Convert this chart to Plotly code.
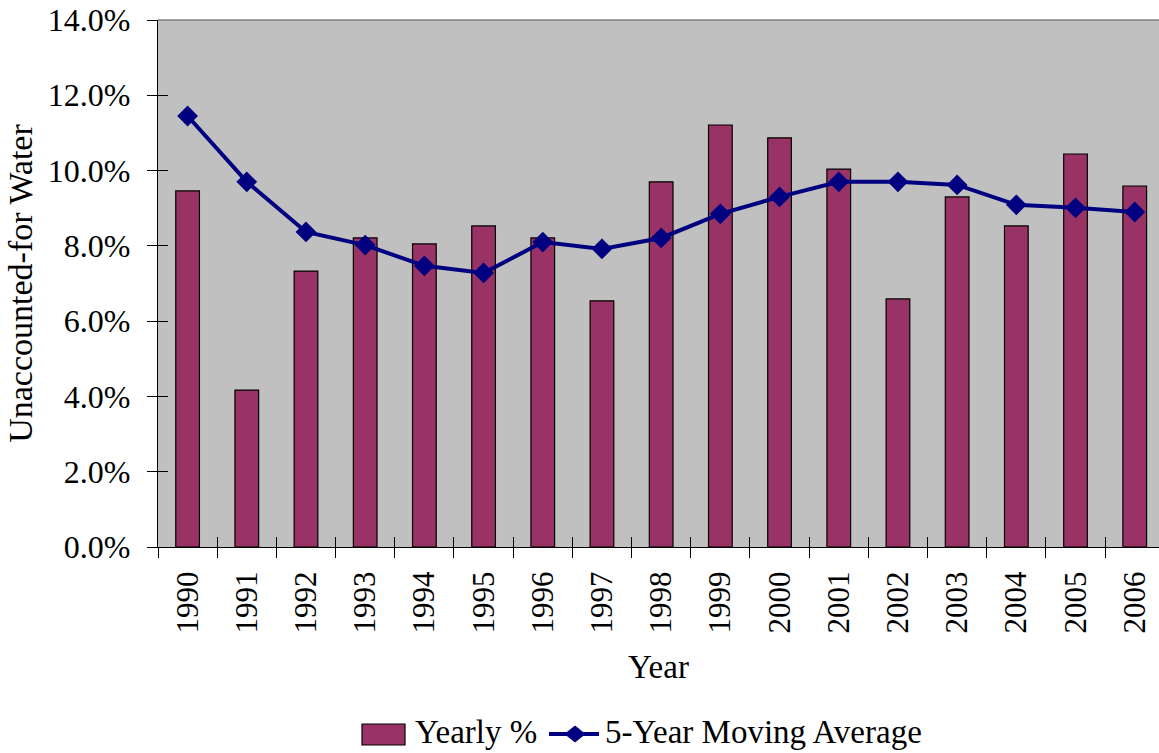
import plotly.graph_objects as go

years = [str(y) for y in range(1990, 2007)]
yearly_pct = [9.46, 4.17, 7.33, 8.21, 8.05, 8.53, 8.21, 6.54, 9.70, 11.21,
              10.87, 10.04, 6.59, 9.30, 8.53, 10.44, 9.59]
moving_avg = [11.45, 9.70, 8.37, 8.02, 7.47, 7.28, 8.10, 7.92, 8.21, 8.85,
              9.30, 9.70, 9.70, 9.62, 9.09, 9.01, 8.90]
y_ticks = [0, 2, 4, 6, 8, 10, 12, 14]
y_tick_labels = [f"{v:.1f}%" for v in y_ticks]
series_names = ["Yearly %", "5-Year Moving Average"]

FONT = "Liberation Serif, Times New Roman, serif"
BAR_COLOR = "#993366"
LINE_COLOR = "#000080"

fig = go.Figure()
fig.add_trace(go.Bar(
    x=years, y=yearly_pct, name=series_names[0],
    marker=dict(color=BAR_COLOR, line=dict(color="black", width=1.2)),
))
fig.add_trace(go.Scatter(
    x=years, y=moving_avg, name=series_names[1], mode="lines+markers",
    line=dict(color=LINE_COLOR, width=4),
    marker=dict(symbol="diamond", size=16, color=LINE_COLOR),
))

# Plot area spans window x 158..1159, y 20..547
def px_x(X):
    return (X - 158) / 1001.0

def px_y(Y):
    return (547 - Y) / 527.0

legend_shapes = [
    dict(type="rect", xref="paper", yref="paper",
         x0=px_x(362), x1=px_x(405), y0=px_y(724), y1=px_y(745),
         fillcolor=BAR_COLOR, line=dict(color="black", width=1.2)),
    dict(type="line", xref="paper", yref="paper",
         x0=px_x(549), x1=px_x(599), y0=px_y(734), y1=px_y(734),
         line=dict(color=LINE_COLOR, width=4)),
    dict(type="path", xref="paper", yref="paper", xsizemode="pixel", ysizemode="pixel",
         xanchor=px_x(575), yanchor=px_y(734),
         path="M -10 0 L 0 8 L 10 0 L 0 -8 Z",
         fillcolor=LINE_COLOR, line=dict(color=LINE_COLOR, width=1)),
    dict(type="line", xref="paper", yref="paper", x0=0, x1=1, y0=1, y1=1,
         line=dict(color="#808080", width=1.5)),
]
legend_annots = [
    dict(text=series_names[0], xref="paper", yref="paper", x=px_x(413), y=px_y(752),
         xanchor="left", yanchor="bottom", showarrow=False, font=dict(size=33)),
    dict(text=series_names[1], xref="paper", yref="paper", x=px_x(603), y=px_y(752),
         xanchor="left", yanchor="bottom", showarrow=False, font=dict(size=33)),
]

fig.update_layout(
    width=1159, height=753,
    margin=dict(l=158, r=0, t=20, b=206),
    paper_bgcolor="white", plot_bgcolor="#C0C0C0",
    font=dict(family=FONT, size=30, color="black"),
    bargap=0.6,
    showlegend=False,
    xaxis=dict(
        type="category", range=[-0.5, 16.41], automargin=False,
        showline=True, linecolor="black", linewidth=1.2,
        ticks="outside", ticklen=10, tickcolor="black", tickwidth=1,
        tickson="boundaries", tickangle=-90, ticklabelstandoff=11,
        ticklabeloverflow="allow",
        tickfont=dict(size=31), showgrid=False,
        title=dict(text="Year", font=dict(size=33), standoff=22),
    ),
    yaxis=dict(
        range=[0, 14], tickvals=y_ticks, ticktext=y_tick_labels, automargin=False,
        showline=True, linecolor="black", linewidth=1.2,
        ticks="outside", ticklen=10, tickcolor="black", tickwidth=1,
        ticklabelstandoff=10, ticklabeloverflow="allow",
        showgrid=False, zeroline=False,
        tickfont=dict(size=32),
        title=dict(text="Unaccounted-for Water", font=dict(size=34), standoff=4),
    ),
    xaxis2=dict(
        overlaying="x", range=[-0.5, 16.41], tick0=-0.5, dtick=1,
        ticks="inside", ticklen=10, tickcolor="black", tickwidth=1,
        showticklabels=False, showgrid=False, zeroline=False, showline=False,
        anchor="y",
    ),
    yaxis2=dict(
        overlaying="y", range=[0, 14], tick0=0, dtick=2,
        ticks="inside", ticklen=10, tickcolor="black", tickwidth=1,
        showticklabels=False, showgrid=False, zeroline=False, showline=False,
        anchor="x",
    ),
    shapes=legend_shapes,
    annotations=legend_annots,
)
fig.add_trace(go.Scatter(x=[None], y=[None], xaxis="x2", yaxis="y2",
                         showlegend=False, hoverinfo="skip"))

fig.write_html("out.html", config={"displayModeBar": False},
               post_script="document.body.style.margin='0px';document.body.style.overflow='hidden';")
